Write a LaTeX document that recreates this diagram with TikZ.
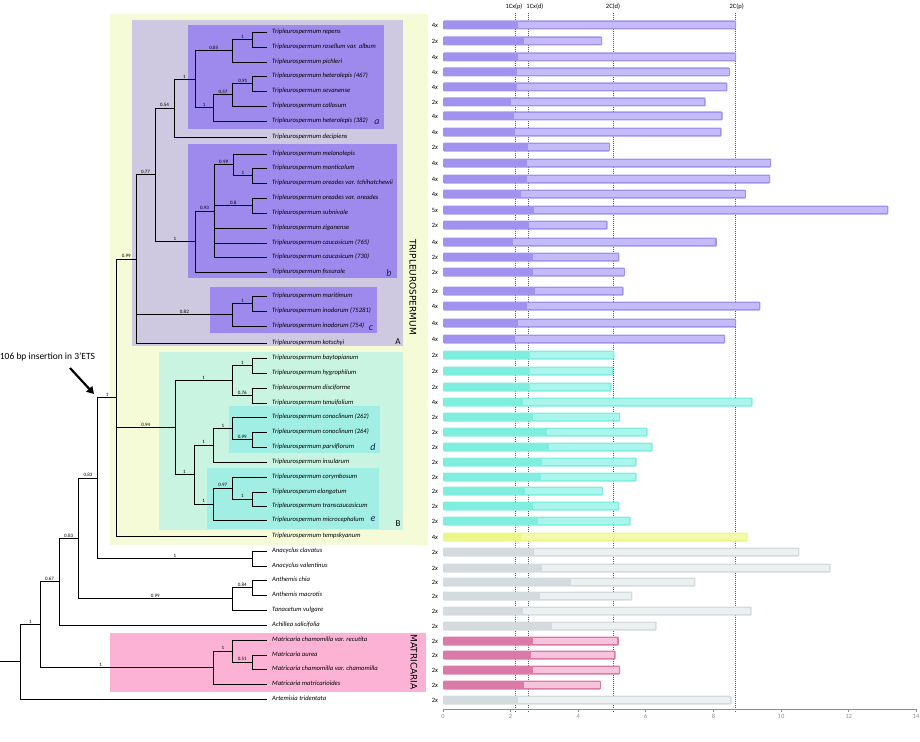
\documentclass[tikz,border=0pt]{standalone}
\usepackage{fontspec}
\setmainfont{Carlito}
\newfontfamily\capfont{DejaVu Sans}
\usetikzlibrary{arrows.meta}

% Clade box colours
\definecolor{boxyel}{HTML}{F4FBD6}
\definecolor{boxA}{HTML}{CFC8E1}
\definecolor{boxpu}{HTML}{9D8AEC}
\definecolor{boxB}{HTML}{C8F4E1}
\definecolor{boxcy}{HTML}{A0EEE4}
\definecolor{boxpk}{HTML}{FBB2D4}
\definecolor{lblink}{HTML}{1E1E50}

% Bar colours (dark = Cx part, light = rest of 2C)
\definecolor{dkpu}{HTML}{A092EE}
\definecolor{lgpu}{HTML}{C4BCFA}
\definecolor{dkcy}{HTML}{80EEDE}
\definecolor{lgcy}{HTML}{AAF5EC}
\definecolor{dkye}{HTML}{EBF787}
\definecolor{lgye}{HTML}{F3FAAA}
\definecolor{dkgr}{HTML}{D4DBDE}
\definecolor{lggr}{HTML}{EBF1F1}
\definecolor{dkpk}{HTML}{DB7AA6}
\definecolor{lgpk}{HTML}{F5C4DC}

\begin{document}
\begin{tikzpicture}[x=1pt,y=-1pt,
  branch/.style={line width=0.8pt},
  tip/.style={anchor=west,inner xsep=5pt,inner ysep=0pt,text height=4.4pt,text depth=1.5pt,font=\fontsize{6.6}{7.5}\selectfont\itshape},
  sup/.style={above,inner sep=0.8pt,font=\fontsize{5}{6}\selectfont},
  clade/.style={font=\fontsize{10}{12}\selectfont\itshape,text=lblink,inner sep=0pt},
  group/.style={font=\fontsize{9}{11}\selectfont,inner sep=0pt},
  vlabel/.style={rotate=-90,font=\capfont\fontsize{9}{11}\selectfont,inner sep=0pt},
  ploidy/.style={font=\fontsize{6.5}{8}\selectfont,inner sep=0pt},
  small/.style={font=\fontsize{6.5}{8}\selectfont,inner sep=0pt},
  refline/.style={line width=0.7pt,black!65,dash pattern=on 1pt off 1pt},
  axis/.style={line width=0.8pt,black!45}]

\useasboundingbox (0,0) rectangle (920,741);

% Clade boxes
\fill[boxyel] (110,14) rectangle (428,545);
\fill[boxA] (132,20) rectangle (403,346);
\fill[boxpu] (188,25) rectangle (384,129);
\fill[boxpu] (188,144) rectangle (397,278);
\fill[boxpu] (210,287) rectangle (377,333);
\fill[boxB] (159,352) rectangle (403,530);
\fill[boxcy] (229,406) rectangle (380,453);
\fill[boxcy] (207,468) rectangle (379,529);
\fill[boxpk] (110,633) rectangle (426,692);

% Clade letters
\node[clade] (la) at (377,122) {a};
\node[clade] (lb) at (389,273) {b};
\node[clade] (lc) at (371,328) {c};
\node[clade] (ld) at (373,447) {d};
\node[clade] (le) at (373,519) {e};
\node[group] (lA) at (398,342) {A};
\node[group] (lB) at (398,524) {B};

% Genus labels
\node[vlabel] (gT) at (413,287) {TRIPLEUROSPERMUM};
\node[vlabel] (gM) at (414,662) {MATRICARIA};

% Tips
\foreach \y/\name [count=\i] in {
  32/Tripleurospermum repens,
  47/Tripleurospermum rosellum var. album,
  62/Tripleurospermum pichleri,
  76/Tripleurospermum heterolepis (467),
  91/Tripleurospermum sevanense,
  106/Tripleurospermum callosum,
  121/Tripleurospermum heterolepis (382),
  137/Tripleurospermum decipiens,
  154/Tripleurospermum melanolepis,
  168/Tripleurospermum monticolum,
  183/Tripleurospermum oreades var. tchihatchewii,
  198/Tripleurospermum oreades var. oreades,
  213/Tripleurospermum subnivale,
  228/Tripleurospermum ziganense,
  243/Tripleurospermum caucasicum (765),
  257/Tripleurospermum caucasicum (730),
  272/Tripleurospermum fissurale,
  296/Tripleurospermum maritimum,
  311/Tripleurospermum inodorum (75281),
  326/Tripleurospermum inodorum (754),
  343/Tripleurospermum kotschyi,
  358/Tripleurospermum baytopianum,
  373/Tripleurospermum hygrophilum,
  388/Tripleurospermum disciforme,
  403/Tripleurospermum tenuifolium,
  417/Tripleurospermum conoclinum (262),
  432/Tripleurospermum conoclinum (264),
  447/Tripleurospermum parviflorum,
  462/Tripleurospermum insularum,
  477/Tripleurospermum corymbosum,
  492/Tripleurosperum elongatum,
  506/Tripleurospermum transcaucasicum,
  520/Tripleurospermum microcephalum,
  536/Tripleurospermum tempskyanum,
  551/Anacyclus clavatus,
  566/Anacyclus valentinus,
  580/Anthemis chia,
  595/Anthemis macrotis,
  610/Tanacetum vulgare,
  625/Achillea salicifolia,
  640/Matricaria chamomilla var. recutita,
  655/Matricaria aurea,
  669/Matricaria chamomilla var. chamomilla,
  684/Matricaria matricarioides,
  699/Artemisia tridentata}
  \node[tip] (t\i) at (267,\y) {\name};

% Internal nodes
\foreach \n/\x/\y in {
  nA1/252.7/39.5, n085/232.7/50.75, n091/252.7/83.5, n057/232.7/94.75,
  n1a/213.3/107.9, na/195/79.3, n054/174/108.2,
  nb1/252.7/175.5, n099b/233.3/164.75, n08/252.7/205.5, n093/214/210.9,
  nb/195/241.4, n077/155/174.8,
  nc1/252.7/303.5, n082/232.7/314.75, nA/136/258.9,
  nB1/252.3/365.5, n076/252.3/395.5, nB2/232.3/380.5,
  n099d/252.3/439.5, nd/232.3/428.25, nB3/213.3/445.1,
  ne1/252.3/499, n097/232.3/488, ne/213.3/504,
  nB4/194/474.6, nB/175/427.5, nT/116.7/397.5,
  nAna/252.3/558.5, n083a/97.7/478, n084/252.3/587.5, n099e/232.3/598.75,
  n083b/78.3/538.4, n067/59/581.7, n051/252.3/662, nM1/232.3/651,
  nM/213.3/667.5, n1r/40/624.6, root/20.7/661.8}
  \coordinate (\n) at (\x,\y);
\coordinate (stem) at (0,661.8);

% Branches between internal nodes, with support values
\foreach \p/\c/\l in {
  n085/nA1/1, na/n085/0.85, n057/n091/0.91, n1a/n057/0.57, na/n1a/1,
  n054/na/1, n077/n054/0.54, n099b/nb1/1, n093/n099b/0.99, n093/n08/0.8,
  nb/n093/0.93, n077/nb/1, nA/n077/0.77, n082/nc1/1, nA/n082/0.82,
  nT/nA/0.99, nB2/nB1/1, nB2/n076/0.76, nB/nB2/1, nd/n099d/0.99,
  nB3/nd/1, nB4/nB3/1, n097/ne1/1, ne/n097/0.97, nB4/ne/1, nB/nB4/1,
  nT/nB/0.94, n083a/nT/1, n083a/nAna/1, n083b/n083a/0.83, n099e/n084/0.84,
  n083b/n099e/0.99, n067/n083b/0.83, n1r/n067/0.67, nM1/n051/0.51,
  nM/nM1/1, root/n1r/1}
  \draw[branch] (\p) |- node[sup,pos=0.75] {\l} (\c);
\draw[branch] (n1r) |- node[sup,pos=0.675] {1} (nM);

% Branches to tips
\foreach \p/\c in {
  nA1/1, nA1/2, n085/3, n091/4, n091/5, n057/6, n1a/7, n054/8,
  n099b/9, nb1/10, nb1/11, n08/12, n08/13, n093/14, n093/15, n093/16,
  nb/17, nc1/18, nc1/19, n082/20, nA/21, nB1/22, nB1/23, n076/24,
  n076/25, nd/26, n099d/27, n099d/28, nB3/29, n097/30, ne1/31, ne1/32,
  ne/33, nT/34, nAna/35, nAna/36, n084/37, n084/38, n099e/39, n067/40,
  nM1/41, n051/42, n051/43, nM/44, root/45}
  \draw[branch] (\p) |- (t\c);
\draw[branch] (stem) -- (root);

% Insertion marker
\node[font=\fontsize{9.5}{11}\selectfont,inner sep=0pt] (ins) at (47.5,357) {106 bp insertion in 3’ETS};
\coordinate (insTail) at (70,368);
\coordinate (insHead) at (94,394);
\draw[line width=2.2pt,-{Triangle[length=7pt,width=8pt]}] (insTail) -- (insHead);

% Genome size chart
\begin{scope}[shift={(443,0)},x=33.8pt]
  % reference lines
  \foreach \v in {2.13,2.53,5.03,8.66}
    \draw[refline] (\v,13) -- (\v,713);
  \node[small] (rCxp) at (2.10,7) {1Cx(p)};
  \node[small] (rCxd) at (2.72,7) {1Cx(d)};
  \node[small] (rCd) at (5.03,7) {2C(d)};
  \node[small] (rCp) at (8.69,7) {2C(p)};
  % bars: y / ploidy / Cx / 2C / colour
  \foreach \y/\p/\d/\e/\c [count=\i] in {
    25/4/2.23/8.67/pu, 41/2/2.40/4.71/pu, 57/4/2.23/8.67/pu,
    72/4/2.19/8.49/pu, 87/4/2.18/8.41/pu, 102/2/2.00/7.77/pu,
    116/4/2.11/8.27/pu, 132/4/2.12/8.24/pu, 147/2/2.51/4.94/pu,
    163/4/2.49/9.71/pu, 179/4/2.49/9.68/pu, 194/4/2.30/8.96/pu,
    210/5/2.69/13.18/pu, 225/2/2.53/4.87/pu, 242/4/2.07/8.10/pu,
    257/2/2.67/5.22/pu, 272/2/2.66/5.38/pu, 291/2/2.73/5.34/pu,
    306/4/2.48/9.39/pu, 323/4/2.22/8.67/pu, 339/4/2.13/8.35/pu,
    355/2/2.57/5.07/cy, 371/2/2.57/5.03/cy, 387/2/2.56/4.99/cy,
    402/4/2.38/9.16/cy, 417/2/2.65/5.24/cy, 432/2/3.07/6.05/cy,
    447/2/3.14/6.20/cy, 462/2/2.94/5.73/cy, 477/2/2.91/5.73/cy,
    491/2/2.43/4.73/cy, 506/2/2.65/5.22/cy, 521/2/2.80/5.55/cy,
    537/4/2.30/9.01/ye, 552/2/2.70/10.54/gr, 568/2/2.93/11.47/gr,
    582/2/3.79/7.47/gr, 596/2/2.86/5.60/gr, 611/2/2.38/9.13/gr,
    626/2/3.21/6.32/gr, 641/2/2.66/5.20/pk, 655/2/2.61/5.11/pk,
    670/2/2.67/5.24/pk, 685/2/2.40/4.67/pk, 700/2/2.21/8.54/gr} {
    \node[ploidy] (p\i) at (-0.24,\y) {\p\textit{x}};
    \fill[dk\c,rounded corners=1pt] (0,\y-4.5) rectangle (\e,\y+4.5);
    \fill[lg\c] (\d,\y-3) rectangle (\e-0.04,\y+3);
  }
  % axis
  \draw[axis] (0,709) -- (14,709);
  \foreach \t in {0,2,...,14}
    \draw[axis] (\t,709) -- (\t,712) node[small,below=2pt] (ax\t) {\t};
\end{scope}

\end{tikzpicture}
\end{document}
